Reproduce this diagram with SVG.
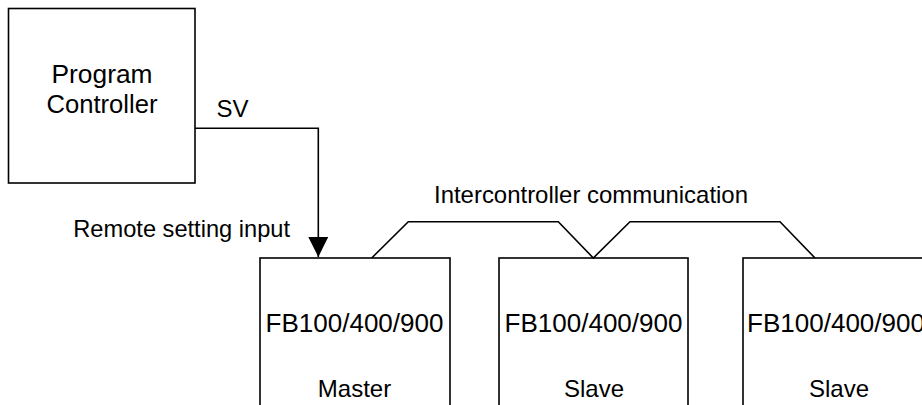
<svg xmlns="http://www.w3.org/2000/svg" width="922" height="405" viewBox="0 0 922 405">
<style>
.box{fill:#fff;stroke:#000;stroke-width:1.6}
.ln{fill:none;stroke:#000;stroke-width:1.6}
text{font-family:"Liberation Sans",Arial,sans-serif;font-size:24px;fill:#000}
.big{font-size:25px}
.c{text-anchor:middle}
</style>
<defs>
<marker id="arr" markerUnits="userSpaceOnUse" markerWidth="20" markerHeight="20" refX="20" refY="10" orient="auto" viewBox="0 0 20 20">
<path d="M0,0 L20,10 L0,20 Z" fill="#000"/>
</marker>
</defs>
<g id="program-controller">
<rect class="box" x="8.5" y="8.5" width="186.5" height="174.5"/>
<text class="c big" x="102" y="83" textLength="101" lengthAdjust="spacingAndGlyphs">Program</text>
<text class="c big" x="102" y="113" textLength="111" lengthAdjust="spacingAndGlyphs">Controller</text>
</g>
<g id="master">
<rect class="box" x="260" y="258" width="190" height="170"/>
<text class="c big" x="354.5" y="332" textLength="178" lengthAdjust="spacingAndGlyphs">FB100/400/900</text>
<text class="c" x="354.5" y="397">Master</text>
</g>
<g id="slave1">
<rect class="box" x="499" y="258" width="189" height="170"/>
<text class="c big" x="593.5" y="332" textLength="178" lengthAdjust="spacingAndGlyphs">FB100/400/900</text>
<text class="c" x="594" y="397">Slave</text>
</g>
<g id="slave2">
<rect class="box" x="743" y="258" width="190" height="170"/>
<text class="big" x="747" y="332" textLength="178" lengthAdjust="spacingAndGlyphs">FB100/400/900</text>
<text class="c" x="839" y="397">Slave</text>
</g>
<g id="connectors">
<polyline class="ln" points="195,128.3 318.3,128.3 318.3,257" marker-end="url(#arr)"/>
<polyline class="ln" points="371.7,258 408.3,221.7 558.3,221.7 593.3,258 630,221.7 780,221.7 815,258"/>
</g>
<g id="labels">
<text x="216.5" y="116.7">SV</text>
<text x="73.3" y="236.7" textLength="216.7" lengthAdjust="spacingAndGlyphs">Remote setting input</text>
<text x="434" y="203" textLength="314" lengthAdjust="spacingAndGlyphs">Intercontroller communication</text>
</g>
</svg>
